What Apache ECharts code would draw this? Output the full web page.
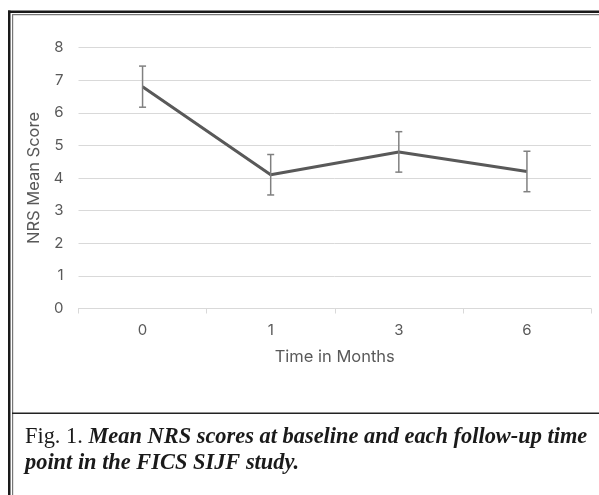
<!DOCTYPE html>
<html>
<head>
<meta charset="utf-8">
<script src="https://cdn.jsdelivr.net/npm/echarts@6/dist/echarts.min.js"></script>
<style>
html,body{margin:0;padding:0;background:#fff;}
#chart{width:599px;height:495px;}
</style>
</head>
<body>
<div id="chart"></div>
<script>
const categories = ['0', '1', '3', '6'];
const meanScores = [6.8, 4.1, 4.8, 4.2];
const errorMargins = [0.63, 0.62, 0.62, 0.62];
const yMin = 0, yMax = 8, yInterval = 1;
const xAxisTitle = 'Time in Months';
const yAxisTitle = 'NRS Mean Score';
const captionLead = 'Fig. 1. ';
const captionLine1 = 'Mean NRS scores at baseline and each follow-up time';
const captionLine2 = 'point in the FICS SIJF study.';

const errorData = categories.map((c, i) => [i, meanScores[i] - errorMargins[i], meanScores[i] + errorMargins[i]]);

const chart = echarts.init(document.getElementById('chart'), null, {renderer: 'canvas'});
const axisFont = 'Inter';
chart.setOption({
  animation: false,
  grid: {left: 78.5, right: 8, top: 47.5, bottom: 186.5, containLabel: false},
  xAxis: {
    type: 'category',
    data: categories,
    boundaryGap: true,
    name: xAxisTitle,
    nameLocation: 'middle',
    nameGap: 40,
    nameTextStyle: {color: '#595959', fontSize: 16.5, fontFamily: axisFont},
    axisLine: {lineStyle: {color: '#d9d9d9', width: 1}},
    axisTick: {show: true, length: 5, lineStyle: {color: '#d9d9d9'}},
    axisLabel: {color: '#595959', fontSize: 15, fontFamily: axisFont, margin: 14}
  },
  yAxis: {
    type: 'value',
    min: yMin, max: yMax, interval: yInterval,
    name: yAxisTitle,
    nameLocation: 'middle',
    nameGap: 30,
    nameTextStyle: {color: '#595959', fontSize: 16.5, fontFamily: axisFont},
    axisLine: {show: false},
    axisTick: {show: false},
    axisLabel: {color: '#595959', fontSize: 15, fontFamily: axisFont, margin: 15},
    splitLine: {lineStyle: {color: '#d9d9d9', width: 1}}
  },
  series: [
    {
      type: 'custom',
      data: errorData,
      z: 3,
      renderItem: function (params, api) {
        const x = api.value(0);
        const lo = api.coord([x, api.value(1)]);
        const hi = api.coord([x, api.value(2)]);
        const w = 3.5;
        const st = {stroke: '#808080', lineWidth: 1.5};
        return {
          type: 'group',
          children: [
            {type: 'line', shape: {x1: lo[0], y1: lo[1], x2: hi[0], y2: hi[1]}, style: st},
            {type: 'line', shape: {x1: lo[0] - w, y1: lo[1], x2: lo[0] + w, y2: lo[1]}, style: st},
            {type: 'line', shape: {x1: hi[0] - w, y1: hi[1], x2: hi[0] + w, y2: hi[1]}, style: st}
          ]
        };
      }
    },
    {
      type: 'line',
      data: meanScores,
      z: 2,
      symbol: 'none',
      lineStyle: {color: '#595959', width: 3}
    }
  ],
  graphic: [
    {type: 'rect', shape: {x: 8, y: 10.5, width: 2.5, height: 500}, style: {fill: '#1a1a1a'}, silent: true},
    {type: 'rect', shape: {x: 8, y: 10.5, width: 600, height: 2.5}, style: {fill: '#1a1a1a'}, silent: true},
    {type: 'rect', shape: {x: 12, y: 14, width: 1.2, height: 500}, style: {fill: '#777'}, silent: true},
    {type: 'rect', shape: {x: 12, y: 14, width: 600, height: 1.2}, style: {fill: '#777'}, silent: true},
    {type: 'rect', shape: {x: 12, y: 412.5, width: 600, height: 1.5}, style: {fill: '#222'}, silent: true},
    {
      type: 'text', left: 25, top: 426, silent: true,
      style: {
        text: '{a|' + captionLead + '}{b|' + captionLine1 + '}\n{b|' + captionLine2 + '}',
        rich: {
          a: {fontFamily: 'Liberation Serif', fontSize: 22.4, fill: '#1a1a1a', lineHeight: 26},
          b: {fontFamily: 'Liberation Serif', fontSize: 22.4, fontStyle: 'italic', fontWeight: 'bold', fill: '#1a1a1a', lineHeight: 26}
        }
      }
    }
  ]
});
</script>
</body>
</html>
